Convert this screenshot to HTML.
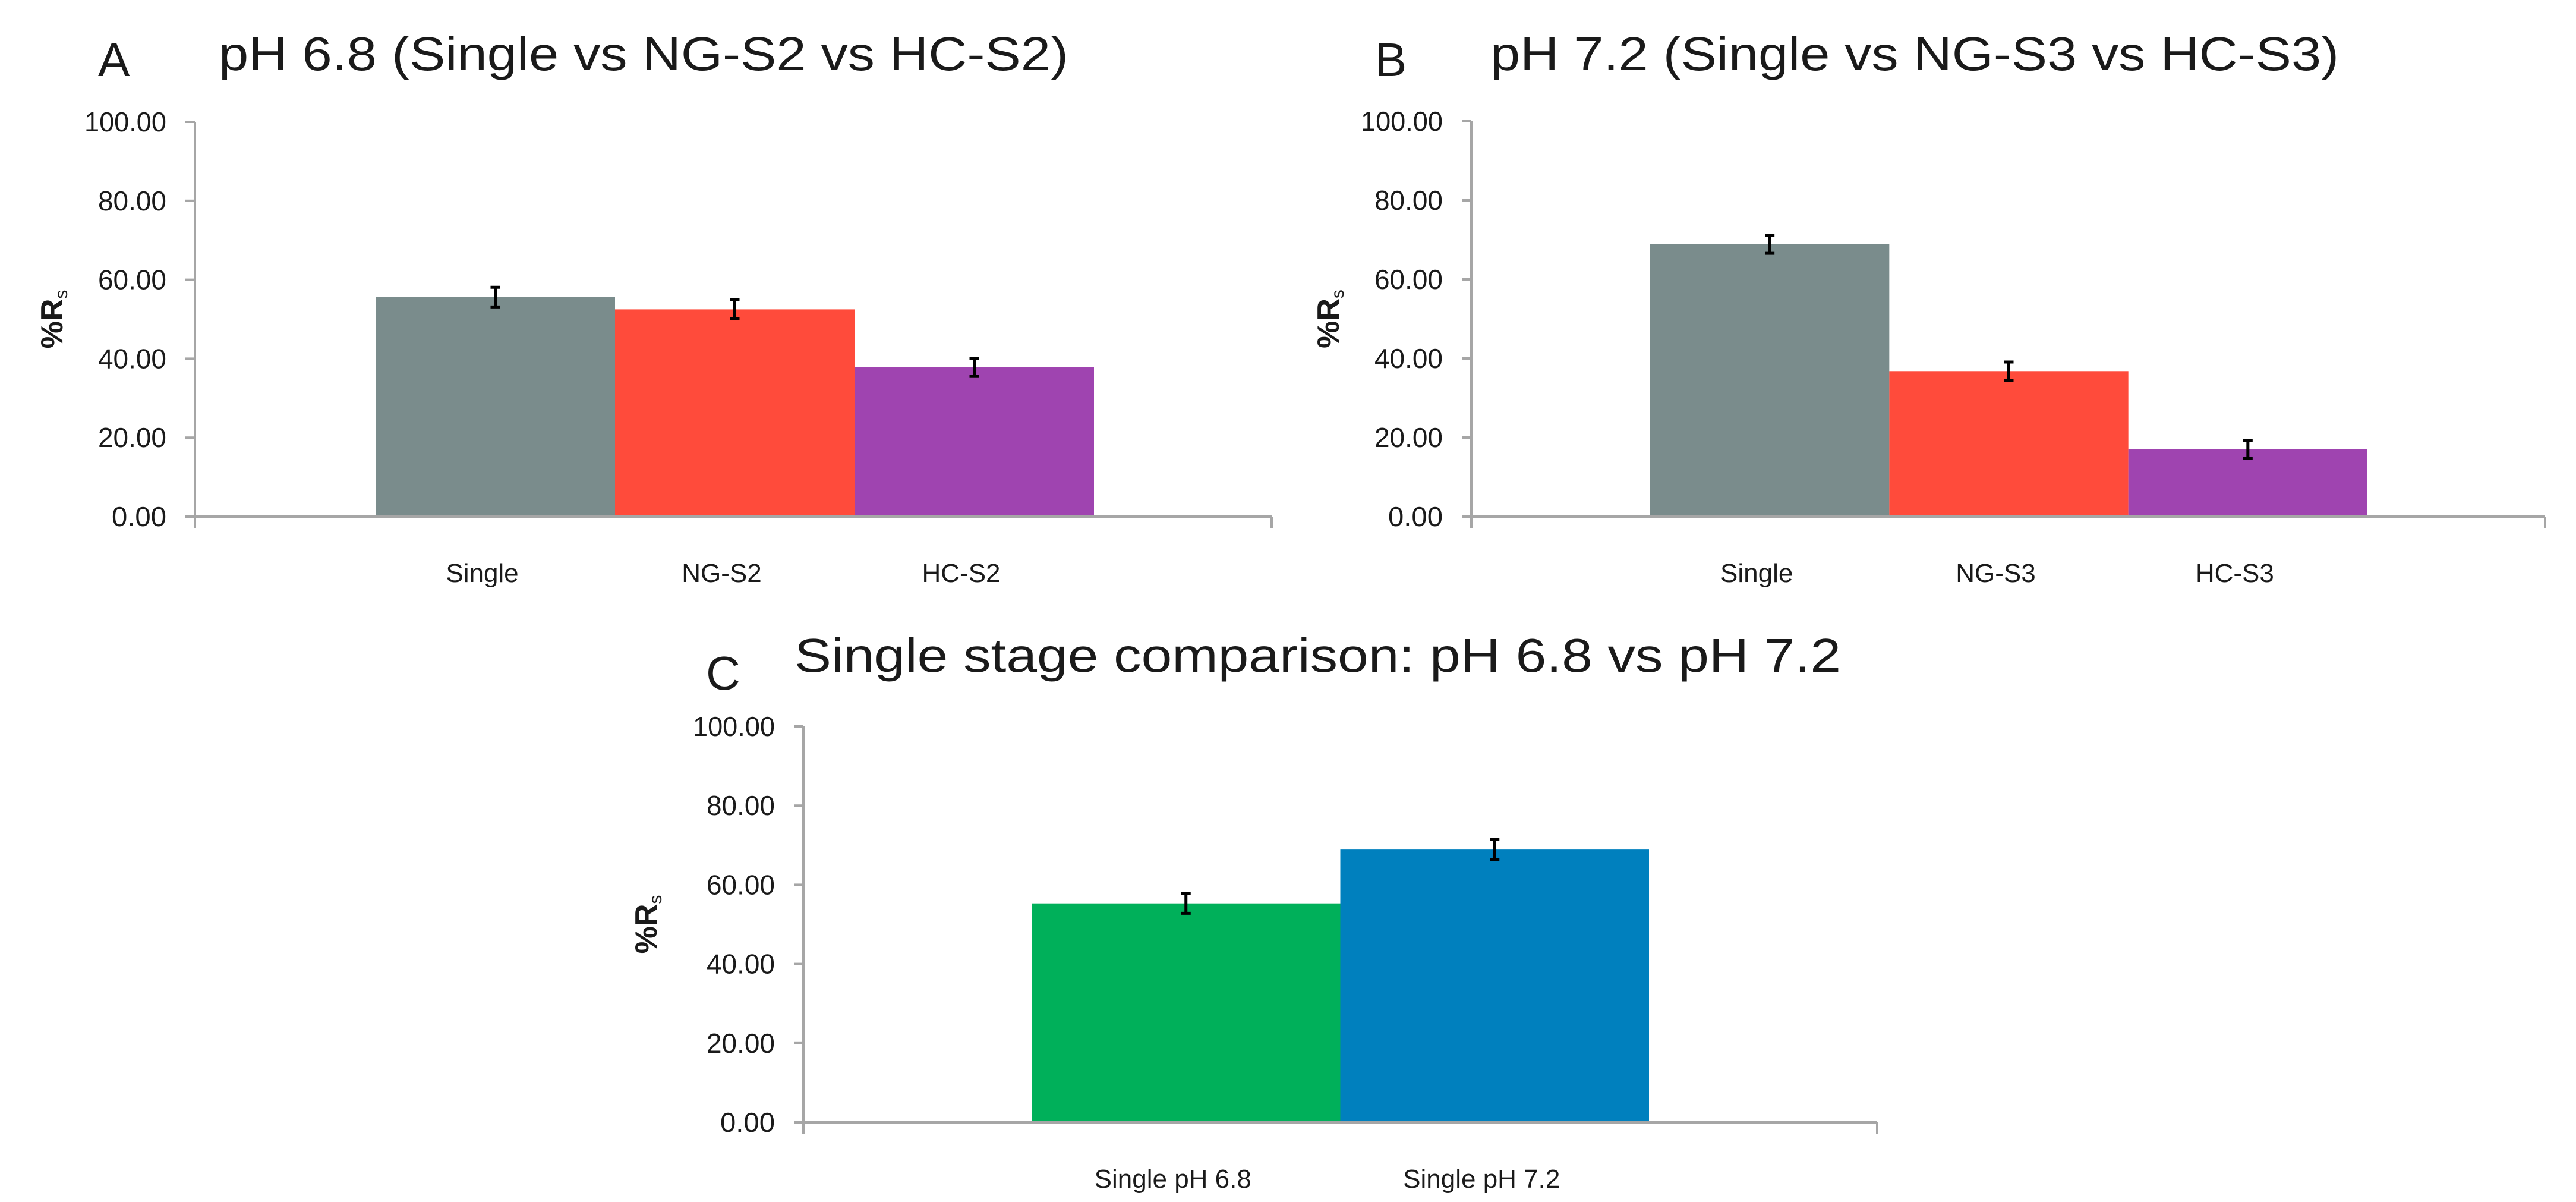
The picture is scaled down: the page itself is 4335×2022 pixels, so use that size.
<!DOCTYPE html>
<html><head><meta charset="utf-8"><style>
html,body{margin:0;padding:0;background:#fff}
svg{display:block}
text{font-family:"Liberation Sans",sans-serif;fill:#1a1a1a}
</style></head><body>
<svg id="fig" width="4335" height="2022" viewBox="0 0 4335 2022"></svg>
<script>
const catsA = ["Single","NG-S2","HC-S2"];
const valsA = [55.6, 52.5, 37.8];
const errA = [2.5, 2.4, 2.3];
const catsB = ["Single","NG-S3","HC-S3"];
const valsB = [68.9, 36.8, 17.0];
const errB = [2.3, 2.3, 2.3];
const catsC = ["Single pH 6.8","Single pH 7.2"];
const valsC = [55.3, 68.9];
const errC = [2.5, 2.5];
const ticks = [0,20,40,60,80,100];
const tickLabels = ["0.00","20.00","40.00","60.00","80.00","100.00"];

const NS="http://www.w3.org/2000/svg";
const svg=document.getElementById('fig');
function mk(tag,attrs,parent){const e=document.createElementNS(NS,tag);for(const k in attrs)e.setAttribute(k,attrs[k]);(parent||svg).appendChild(e);return e;}

function chart(p){
  const g=mk('g',{});
  
  
  const y=v=>p.y0-(v/100)*(p.y0-p.y100);
  const bw=(p.barR-p.barL)/p.cats.length;
  const x=i=>p.barL+i*bw;
  const L=mk('text',{x:p.letterX,y:p.letterY,'font-size':80},g);L.textContent=p.letter;
  
  
  const T=mk('text',{x:p.titleX,y:p.titleY,'font-size':80,textLength:p.titleW,lengthAdjust:'spacingAndGlyphs'},g);T.textContent=p.title;
  
  
  ticks.forEach((t,i)=>{
    const tl=mk('text',{x:p.axisX-48,y:y(t)+16,'font-size':46,'text-anchor':'end',textLength:tickLabels[i].length*23,lengthAdjust:'spacingAndGlyphs'},g);
    tl.textContent=tickLabels[i];
    
    
    const tm=mk('line',{x1:p.axisX-16,x2:p.axisX,y1:y(t),y2:y(t),stroke:'#a6a6a6','stroke-width':4},g);
    
    
  });
  p.vals.forEach((v,i)=>{
    const r=mk('rect',{x:x(i),y:y(v),width:bw,height:y(0)-y(v),fill:p.colors[i]},g);
    
    
    const cx=x(i)+bw/2, e=p.errs[i];
    const eb=mk('path',{d:`M${cx} ${y(v+e)}V${y(v-e)}M${cx-8} ${y(v+e)}H${cx+8}M${cx-8} ${y(v-e)}H${cx+8}`,stroke:'#000','stroke-width':5,fill:'none'},g);
    
    
    const cl=mk('text',{x:cx-p.labelShift,y:p.y0+110,'font-size':44,'text-anchor':'middle'},g);
    cl.textContent=p.cats[i];
    
    
  });
  const ya=mk('line',{x1:p.axisX,x2:p.axisX,y1:y(100),y2:y(0)+20,stroke:'#a6a6a6','stroke-width':4},g);
  
  
  const xa=mk('line',{x1:p.axisX-16,x2:p.axisEnd,y1:y(0),y2:y(0),stroke:'#a6a6a6','stroke-width':5},g);
  
  
  const xe=mk('line',{x1:p.axisEnd,x2:p.axisEnd,y1:y(0),y2:y(0)+20,stroke:'#a6a6a6','stroke-width':4},g);
  
  
  const yl=mk('text',{x:0,y:0,'font-size':52,'font-weight':'bold','text-anchor':'middle',transform:`translate(${p.ylabX},${(y(0)+y(100))/2}) rotate(-90)`},g);
  yl.innerHTML='%R<tspan font-size="30" font-weight="normal" dy="8">s</tspan>';
  
  
}
chart({name:'chart-a',letter:'A',letterX:165,letterY:128,title:'pH 6.8 (Single vs NG-S2 vs HC-S2)',titleX:368,titleY:118,titleW:1430,
  axisX:328,axisEnd:2140,y0:869,y100:205,barL:632,barR:1841,cats:catsA,vals:valsA,errs:errA,
  colors:['#7a8c8c','#ff4b3b','#9f44b0'],ylabX:105,labelShift:22});
chart({name:'chart-b',letter:'B',letterX:2314,letterY:128,title:'pH 7.2 (Single vs NG-S3 vs HC-S3)',titleX:2508,titleY:118,titleW:1428,
  axisX:2476,axisEnd:4283,y0:869,y100:204,barL:2777,barR:3984,cats:catsB,vals:valsB,errs:errB,
  colors:['#7a8c8c','#ff4b3b','#9f44b0'],ylabX:2253,labelShift:22});
chart({name:'chart-c',letter:'C',letterX:1188,letterY:1160,title:'Single stage comparison: pH 6.8 vs pH 7.2',titleX:1337,titleY:1130,titleW:1761,
  axisX:1352,axisEnd:3159,y0:1888,y100:1222,barL:1736,barR:2775,cats:catsC,vals:valsC,errs:errC,
  colors:['#00b05a','#0080be'],ylabX:1105,labelShift:22});
</script>
</body></html>
